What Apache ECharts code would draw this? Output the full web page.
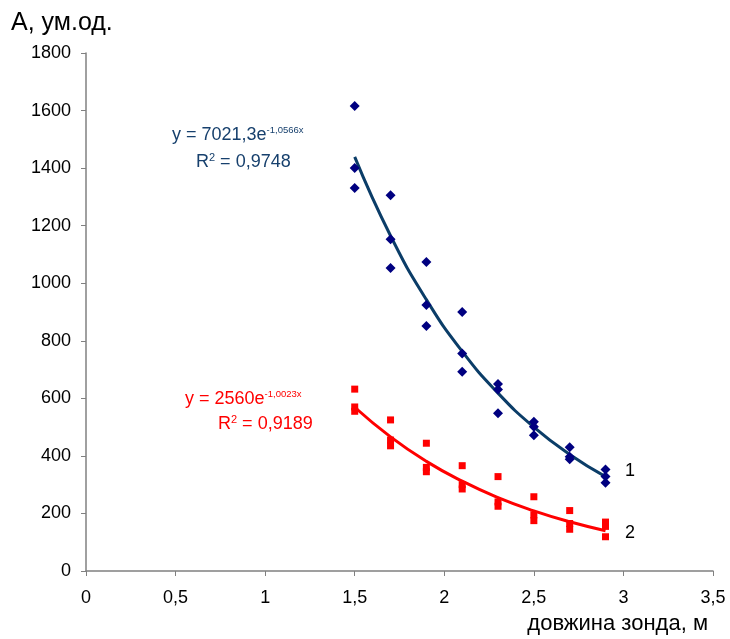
<!DOCTYPE html>
<html><head><meta charset="utf-8">
<script src="https://cdn.jsdelivr.net/npm/echarts@6/dist/echarts.min.js"></script>
<style>html,body{margin:0;padding:0;background:#fff}#c{width:730px;height:639px}</style>
</head><body><div id="c"></div>
<script>
// x positions (probe length, m)
const xCats = [1.5, 1.7, 1.9, 2.1, 2.3, 2.5, 2.7, 2.9];
// series 1 measurements (several per x)
const series1 = [
  [1.5,1616],[1.5,1400],[1.5,1331],
  [1.7,1306],[1.7,1153],[1.7,1053],
  [1.9,1074],[1.9,924],[1.9,851],
  [2.1,900],[2.1,756],[2.1,692],
  [2.3,650],[2.3,631],[2.3,548],
  [2.5,519],[2.5,501],[2.5,472],
  [2.7,430],[2.7,397],[2.7,388],
  [2.9,353],[2.9,328],[2.9,307]
];
// series 2 measurements
const series2 = [
  [1.5,632],[1.5,570],[1.5,555],
  [1.7,525],[1.7,455],[1.7,435],
  [1.9,444],[1.9,360],[1.9,345],
  [2.1,366],[2.1,300],[2.1,285],
  [2.3,328],[2.3,240],[2.3,225],
  [2.5,258],[2.5,195],[2.5,175],
  [2.7,210],[2.7,165],[2.7,145],
  [2.9,170],[2.9,155],[2.9,119]
];
// trend line values at xCats
const trend1 = [1439, 1165, 943, 763, 618, 500, 405, 328];
const trend2 = [569, 466, 381, 312, 255, 209, 171, 140];
const yTicks = [0,200,400,600,800,1000,1200,1400,1600,1800];

const fmt = v => String(v).replace('.', ',');
const chart = echarts.init(document.getElementById('c'));
const FONT = 'Liberation Sans, Arial, sans-serif';
const BLUE_TXT = '#17406D';
chart.setOption({
  animation: false,
  grid: {left: 86, right: 17, top: 53, bottom: 68},
  xAxis: {
    type: 'value', min: 0, max: 3.5, interval: 0.5,
    axisLine: {lineStyle: {color: '#808080', width: 1.5}},
    axisTick: {show: true, length: 5, lineStyle: {color: '#808080'}},
    splitLine: {show: false},
    axisLabel: {formatter: fmt, color: '#000', fontSize: 18, fontFamily: FONT, margin: 18}
  },
  yAxis: {
    type: 'value', min: 0, max: 1800, interval: 200,
    axisLine: {show: true, lineStyle: {color: '#808080', width: 1.5}},
    axisTick: {show: true, length: 5, lineStyle: {color: '#808080'}},
    splitLine: {show: false},
    axisLabel: {formatter: v => String(v), color: '#000', fontSize: 18, fontFamily: FONT, margin: 15}
  },
  series: [
    {type: 'line', data: xCats.map((x,i)=>[x,trend1[i]]), smooth: true, symbol: 'none',
     lineStyle: {color: '#0B3D68', width: 3}, z: 2},
    {type: 'line', data: xCats.map((x,i)=>[x,trend2[i]]), smooth: true, symbol: 'none',
     lineStyle: {color: '#FF0000', width: 3}, z: 2},
    {type: 'scatter', data: series1, symbol: 'diamond', symbolSize: [10, 10],
     itemStyle: {color: '#000080', opacity: 1}, z: 3},
    {type: 'scatter', data: series2, symbol: 'rect', symbolSize: 7,
     itemStyle: {color: '#FF0000', opacity: 1}, z: 3}
  ],
  graphic: [
    {type: 'text', left: 11, top: 11, style: {text: 'А, ум.од.', font: '25px ' + FONT, fill: '#000'}},
    {type: 'text', right: 22, top: 613, style: {text: 'довжина зонда, м', font: '22px ' + FONT, fill: '#000'}},
    {type: 'text', left: 625, top: 462, style: {text: '1', font: '18px ' + FONT, fill: '#000'}},
    {type: 'text', left: 625, top: 524, style: {text: '2', font: '18px ' + FONT, fill: '#000'}},
    {type: 'text', left: 172, top: 125, style: {
      text: '{b|y = 7021,3e}{s|-1,0566x}',
      rich: {b: {font: '18px ' + FONT, fill: BLUE_TXT},
             s: {font: '9.5px ' + FONT, fill: BLUE_TXT, padding: [0,0,10,0]}}}},
    {type: 'text', left: 196, top: 152, style: {
      text: '{b|R}{s|2}{b| = 0,9748}',
      rich: {b: {font: '18px ' + FONT, fill: BLUE_TXT},
             s: {font: '11px ' + FONT, fill: BLUE_TXT, padding: [0,0,9,0]}}}},
    {type: 'text', left: 185, top: 389, style: {
      text: '{b|y = 2560e}{s|-1,0023x}',
      rich: {b: {font: '18px ' + FONT, fill: '#FF0000'},
             s: {font: '9.5px ' + FONT, fill: '#FF0000', padding: [0,0,10,0]}}}},
    {type: 'text', left: 218, top: 414, style: {
      text: '{b|R}{s|2}{b| = 0,9189}',
      rich: {b: {font: '18px ' + FONT, fill: '#FF0000'},
             s: {font: '11px ' + FONT, fill: '#FF0000', padding: [0,0,9,0]}}}}
  ]
});
</script></body></html>
